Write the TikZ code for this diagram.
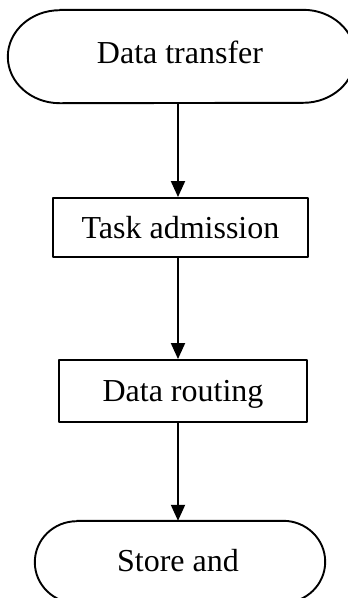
\documentclass[tikz,border=0pt]{standalone}
\usepackage{fontspec}
\setmainfont{Liberation Serif}
\usetikzlibrary{arrows.meta}
\begin{document}
\begin{tikzpicture}[x=1pt,y=-1pt,
  outline/.style={line width=1.9pt, line join=round},
  txt/.style={font=\fontsize{32}{36}\selectfont},
  flowbox/.style={draw, outline, rectangle, inner sep=0pt, txt, text depth=0pt},
  term/.style={rectangle, inner sep=0pt},
  termtext/.style={txt, anchor=base, inner sep=0pt},
  flow/.style={line width=1.9pt, -{Triangle[width=14pt,length=16pt]}}]
\useasboundingbox (0,0) rectangle (348,598);
\clip (0,0) rectangle (348,598);

% start terminal
\node[term, minimum width=347pt, minimum height=93pt] (start) at (181.5,56.5) {};
\draw[outline] ([xshift=52pt]start.north west) -- ([xshift=-52pt]start.north east)
  arc[start angle=90, end angle=-90, x radius=52pt, y radius=46.5pt]
  -- ([xshift=52pt]start.south west)
  arc[start angle=270, end angle=90, x radius=52pt, y radius=46.5pt] -- cycle;
\node[termtext] (starttext) at (180,63) {Data transfer};

% process boxes
\node[flowbox, minimum width=255pt, minimum height=59pt] (task) at (180.5,227.5) {Task admission};
\node[flowbox, minimum width=248pt, minimum height=62pt] (route) at (183,391) {Data routing};

% end terminal
\node[term, minimum width=290pt, minimum height=82pt] (stop) at (180,562) {};
\draw[outline] ([xshift=42pt]stop.north west) -- ([xshift=-42pt]stop.north east)
  arc[start angle=90, end angle=-90, x radius=42pt, y radius=41pt]
  -- ([xshift=42pt]stop.south west)
  arc[start angle=270, end angle=90, x radius=42pt, y radius=41pt] -- cycle;
\node[termtext] (stoptext) at (178,571) {Store and};

% connectors
\coordinate (ax) at (178,0);
\draw[flow] (ax |- start.south) -- (ax |- task.north);
\draw[flow] (ax |- task.south) -- (ax |- route.north);
\draw[flow] (ax |- route.south) -- (ax |- stop.north);
\end{tikzpicture}
\end{document}
